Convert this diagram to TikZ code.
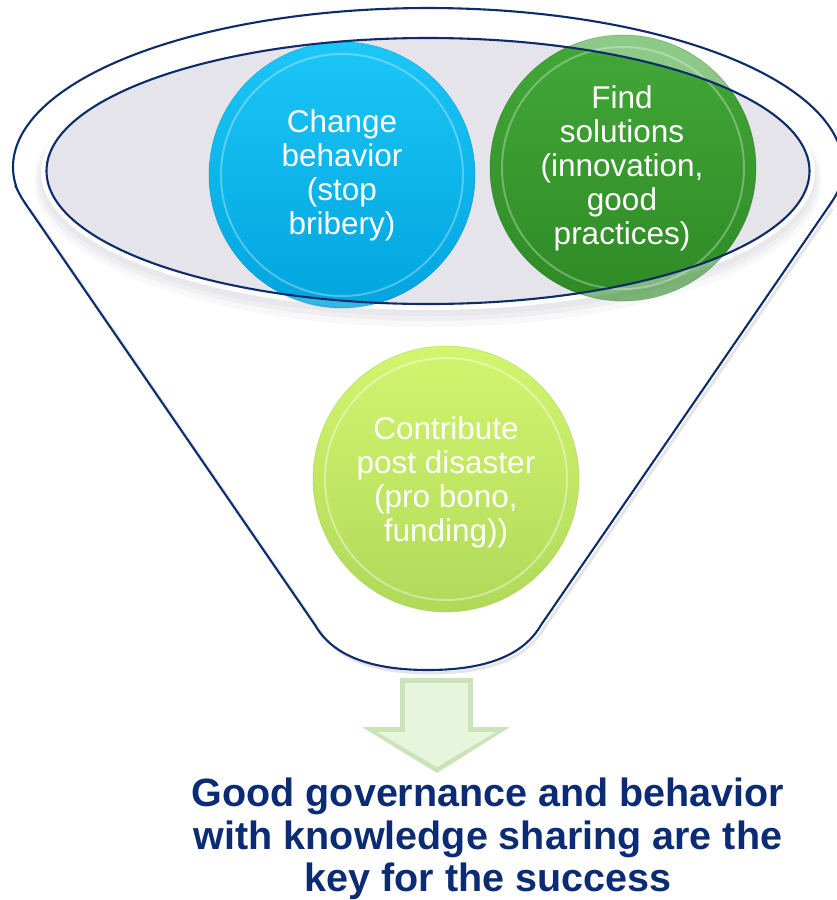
\documentclass[tikz,border=0pt]{standalone}
\usepackage{fontspec}
\setmainfont{Liberation Sans}
\definecolor{funnelline}{HTML}{0F2C6A}
\definecolor{ellfill}{HTML}{E4E4EA}
\definecolor{ellshadow}{HTML}{DCDCE3}
\definecolor{blueT}{HTML}{1CC6F7}
\definecolor{blueB}{HTML}{00A5DE}
\definecolor{greenT}{HTML}{43A838}
\definecolor{greenB}{HTML}{2E8A26}
\definecolor{yelT}{HTML}{D2F56E}
\definecolor{yelB}{HTML}{B0D95A}
\definecolor{arrowEdge}{HTML}{CBE3B8}
\definecolor{arrowFace}{HTML}{E6F5DC}
\definecolor{navytext}{HTML}{0B2C74}
\begin{document}
\begin{tikzpicture}[x=1pt,y=-1pt,
  outline/.style={draw=funnelline, line width=2.1pt},
  bubbletext/.style={circle, minimum size=266pt, inner sep=0pt, text=white, align=center,
    font=\fontsize{31.5}{34}\selectfont},
  rim/.style={draw=white, line width=2pt, opacity=0.3},
  bigtext/.style={anchor=base, text=navytext, font=\fontsize{39.5}{43}\selectfont\bfseries, inner sep=0pt}
]
\useasboundingbox (0,0) rectangle (836,900);

% funnel body
\path[fill=white] (315,625) -- (27,206) .. controls (21,197) .. (17,189.1)
  -- plot[domain=172:368, samples=160] ({428+415*cos(\x)},{167+159*sin(\x)})
  .. controls (835,197) .. (829,206) -- (541,625)
  .. controls (521,660) and (476,670) .. (428,670)
  .. controls (380,670) and (335,660) .. (315,625) -- cycle;
% soft inner shadow along the funnel wall
\begin{scope}[shift={(3,3)}]
\draw[black!10, line width=3pt] (315,625) -- (27,206);
\draw[black!10, line width=3pt] (829,206) -- (541,625)
  .. controls (521,660) and (476,670) .. (428,670)
  .. controls (380,670) and (335,660) .. (315,625);
\end{scope}
\draw[outline] (315,625) -- (27,206) .. controls (21,197) .. (17,189.1)
  -- plot[domain=172:368, samples=160] ({428+415*cos(\x)},{167+159*sin(\x)})
  .. controls (835,197) .. (829,206) -- (541,625)
  .. controls (521,660) and (476,670) .. (428,670)
  .. controls (380,670) and (335,660) .. (315,625) -- cycle;

% glow and shadow round the funnel mouth
\fill[ellshadow, opacity=0.2] (428,181) ellipse[x radius=394pt, y radius=146pt];
\fill[ellshadow, opacity=0.3] (428,179) ellipse[x radius=391pt, y radius=142pt];
\fill[ellshadow, opacity=0.4] (428,177) ellipse[x radius=388pt, y radius=139pt];
\fill[white] (428,172) ellipse[x radius=387pt, y radius=138pt];
\fill[ellfill] (428,171) ellipse[x radius=381.5pt, y radius=133pt];

% blue and green discs: paler where they stick out of the mouth
\shade[top color=blueT, bottom color=blueB, opacity=0.8] (342,175) circle[radius=133pt];
\shade[top color=greenT, bottom color=greenB, opacity=0.6] (623,168) circle[radius=133pt];
\begin{scope}
\clip (428,171) ellipse[x radius=381.5pt, y radius=133pt];
\shade[top color=blueT, bottom color=blueB] (342,175) circle[radius=133pt];
\shade[top color=greenT, bottom color=greenB] (623,168) circle[radius=133pt];
\end{scope}
\draw[rim] (342,175) circle[radius=121pt];
\draw[rim] (623,168) circle[radius=121pt];
\draw[blueB!80!black, opacity=0.3, line width=0.8pt] (342,175) circle[radius=133pt];
\draw[greenB!80!black, opacity=0.3, line width=0.8pt] (623,168) circle[radius=133pt];

\node[bubbletext] (change) at (342,175) {Change\\behavior\\(stop\\bribery)};
\node[bubbletext] (find) at (622,168) {Find\\solutions\\(innovation,\\good\\practices)};

% rim of the funnel mouth over the discs
\draw[outline] (428,171) ellipse[x radius=381.5pt, y radius=133pt];

% lower disc
\shade[top color=yelT, bottom color=yelB] (446,479) circle[radius=133pt];
\draw[rim, opacity=0.4] (446,479) circle[radius=121pt];
\draw[yelB!85!black, opacity=0.3, line width=0.8pt] (446,479) circle[radius=133pt];
\node[bubbletext] (contribute) at (446,482) {Contribute\\post disaster\\(pro bono,\\funding))};

% outlet arrow
\fill[arrowEdge] (400,678) -- (473,678) -- (473,727) -- (510,727) -- (437,773)
  -- (362,727) -- (400,727) -- cycle;
\fill[arrowFace] (405,683) -- (468,683) -- (468,732) -- (496,732) -- (437,767)
  -- (377,732) -- (405,732) -- cycle;

% conclusion
\node[bigtext] (t1) at (488,806) {Good governance and behavior};
\node[bigtext] (t2) at (488,849) {with knowledge sharing are the};
\node[bigtext] (t3) at (488,891) {key for the success};
\end{tikzpicture}
\end{document}
